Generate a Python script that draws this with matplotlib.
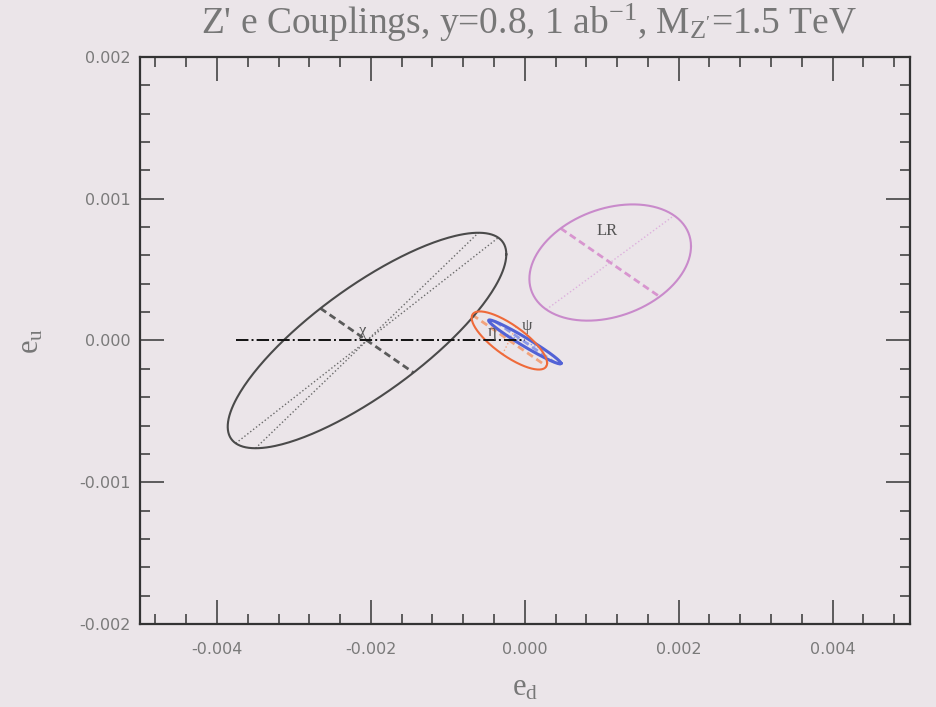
import numpy as np
import matplotlib
matplotlib.use("Agg")
import matplotlib.pyplot as plt
from matplotlib.ticker import MultipleLocator, FormatStrFormatter

# ---- Z' coupling fits: centre, 1-sigma widths and correlation per model ----
models = ["chi", "psi", "eta", "LR"]
model_labels = ["χ", "ψ", "η", "LR"]
center_ed = [-0.00205, 0.0, -0.00020, 0.00111]
center_eu = [0.0, -0.00001, 0.0, 0.00055]
sigma_ed = [0.00181, 0.00047, 0.00049, 0.00105]
sigma_eu = [0.00076, 0.000155, 0.000205, 0.00041]
rho = [0.80, -0.975, -0.78, 0.28]

# direction (de_u / de_d) of the dashed diameter drawn inside every ellipse
DASH_SLOPE = -0.375

# e_u = 0 line joining the chi and psi points
line_ed = [-0.00375, 0.0]
line_eu = [0.0, 0.0]

BG = "#ebe5e9"
colors = {"chi": "#4a4a4a", "psi": "#5262d6", "eta": "#ef6a3a", "LR": "#c98acb"}
inner = {"chi": "#5a5a5a", "psi": "#8e9ae6", "eta": "#f3a37c", "LR": "#d895cf"}
dots = {"chi": "#6a6a6a", "psi": "#8e9ae6", "eta": "#f3a37c", "LR": "#ddb0dd"}
label_pos = {"chi": (-0.00211, 0.00007), "psi": (0.00003, 0.00010),
             "eta": (-0.00042, 0.00006), "LR": (0.00107, 0.00077)}

plt.rcParams["mathtext.fontset"] = "custom"
plt.rcParams["mathtext.rm"] = "Liberation Serif"
plt.rcParams["mathtext.it"] = "Liberation Serif:italic"

fig = plt.figure(figsize=(9.37, 7.07), dpi=100, facecolor=BG)
ax = fig.add_axes([0.1494, 0.1174, 0.8213, 0.8020], facecolor=BG)


def diameter(c, S, d):
    # endpoints of the ellipse diameter along direction d
    Si = np.linalg.inv(S)
    s = 1.0 / np.sqrt(d @ Si @ d)
    return np.array([c - s * d, c + s * d])


t = np.linspace(0, 2 * np.pi, 300)
for i, name in enumerate(models):
    c = np.array([center_ed[i], center_eu[i]])
    sx, sy, r = sigma_ed[i], sigma_eu[i], rho[i]
    S = np.array([[sx * sx, r * sx * sy], [r * sx * sy, sy * sy]])
    L = np.linalg.cholesky(S)
    pts = c[:, None] + L @ np.vstack([np.cos(t), np.sin(t)])
    lw = 2.2 if name == "psi" else 1.5
    ax.plot(pts[0], pts[1], color=colors[name], lw=lw, zorder=3)

    # dashed diameter and its conjugate (dotted)
    d = np.array([1.0, DASH_SLOPE])
    seg = diameter(c, S, d)
    ax.plot(seg[:, 0], seg[:, 1], color=inner[name], lw=2.0,
            ls=(0, (2.5, 1.5)), zorder=2)
    q = np.linalg.inv(S) @ d
    conj = np.array([-q[1], q[0]])
    seg = diameter(c, S, conj)
    ax.plot(seg[:, 0], seg[:, 1], color=dots[name], lw=1.0, ls=":", zorder=2)
    if name == "chi":
        # line through the points of horizontal tangency
        seg = diameter(c, S, np.array([S[0, 1], S[1, 1]]))
        ax.plot(seg[:, 0], seg[:, 1], color=dots[name], lw=1.0, ls=":", zorder=2)

    lx, ly = label_pos[name]
    ax.text(lx, ly, model_labels[i], fontsize=12, color="#555555",
            family="Liberation Serif", ha="center", va="center", zorder=5)

ax.plot(line_ed, line_eu, color="#111111", lw=1.4, ls="-.", zorder=4)

ax.set_xlim(-0.005, 0.005)
ax.set_ylim(-0.002, 0.002)
ax.xaxis.set_major_locator(MultipleLocator(0.002))
ax.xaxis.set_minor_locator(MultipleLocator(0.0004))
ax.yaxis.set_major_locator(MultipleLocator(0.001))
ax.yaxis.set_minor_locator(MultipleLocator(0.0002))
ax.xaxis.set_major_formatter(FormatStrFormatter("%.3f"))
ax.yaxis.set_major_formatter(FormatStrFormatter("%.3f"))
ax.tick_params(which="both", direction="in", top=True, right=True,
               color="#444444", width=1.2, labelcolor="#7a7a7a", labelsize=11.5)
ax.tick_params(which="major", length=17)
ax.tick_params(axis="x", which="major", pad=13)
ax.tick_params(axis="y", which="major", pad=7)
ax.tick_params(which="minor", length=7)
for sp in ax.spines.values():
    sp.set_color("#333333")
    sp.set_linewidth(1.6)

fig.text(0.565, 0.968, "Z' e Couplings, y=0.8, 1 ab$^{-1}$, M$_{\\mathrm{Z'}}$=1.5 TeV",
         fontsize=27, color="#777777", family="Liberation Serif",
         ha="center", va="center")
ax.set_xlabel("e$_\\mathrm{d}$", fontsize=22, color="#777777",
              family="Liberation Serif", labelpad=12)
ax.set_ylabel("e$_\\mathrm{u}$", fontsize=22, color="#777777",
              family="Liberation Serif", labelpad=24)

fig.savefig("out.png", dpi=100, facecolor=BG)
plt.close(fig)
